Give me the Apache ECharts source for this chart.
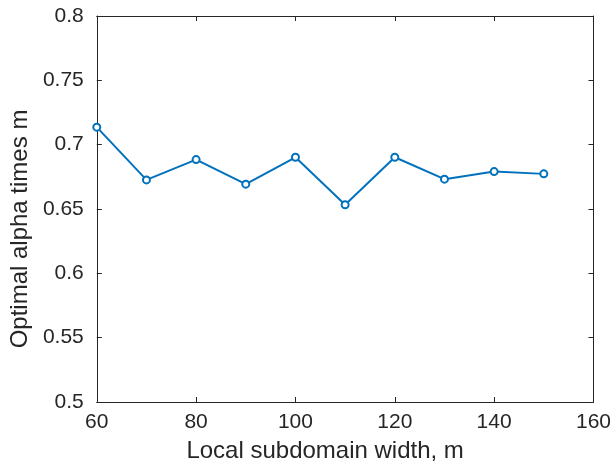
<!DOCTYPE html>
<html>
<head>
<meta charset="utf-8">
<script src="https://cdn.jsdelivr.net/npm/echarts@6/dist/echarts.min.js"></script>
<style>html,body{margin:0;padding:0;background:#fff}#c{width:614px;height:468px}</style>
</head>
<body>
<div id="c"></div>
<script>
const widths = [60, 70, 80, 90, 100, 110, 120, 130, 140, 150];
const alphaTimesM = [0.7136, 0.6726, 0.6884, 0.6693, 0.6902, 0.6533, 0.6902, 0.6732, 0.6791, 0.6773];
const xTicks = [60, 80, 100, 120, 140, 160];
const yTicks = [0.5, 0.55, 0.6, 0.65, 0.7, 0.75, 0.8];

const chart = echarts.init(document.getElementById('c'), null, {renderer: 'canvas'});
const font = '"Liberation Sans", Arial, Helvetica, sans-serif';
const axisColor = '#262626';
const baseAxis = {
  axisLine: {show: true, onZero: false, lineStyle: {color: axisColor, width: 1}},
  axisTick: {show: true, inside: true, length: 5, lineStyle: {color: axisColor, width: 1}},
  splitLine: {show: false}
};
chart.setOption({
  animation: false,
  grid: {left: 95, right: 18, top: 16, bottom: 64, containLabel: false},
  xAxis: [
    Object.assign({}, baseAxis, {
      type: 'value', min: xTicks[0], max: xTicks[xTicks.length - 1], interval: 20,
      position: 'bottom',
      name: 'Local subdomain width, m', nameLocation: 'middle', nameGap: 37,
      nameTextStyle: {fontFamily: font, fontSize: 24, color: axisColor, padding: [0, 40, 0, 0]},
      axisLabel: {fontFamily: font, fontSize: 21, color: axisColor, margin: 10}
    }),
    Object.assign({}, baseAxis, {
      type: 'value', min: xTicks[0], max: xTicks[xTicks.length - 1], interval: 20,
      position: 'top', axisLabel: {show: false}
    })
  ],
  yAxis: [
    Object.assign({}, baseAxis, {
      type: 'value', min: yTicks[0], max: yTicks[yTicks.length - 1], interval: 0.05,
      position: 'left',
      name: 'Optimal alpha times m', nameLocation: 'middle', nameGap: 64,
      nameTextStyle: {fontFamily: font, fontSize: 24, color: axisColor, padding: [0, 40, 0, 0]},
      axisLabel: {fontFamily: font, fontSize: 21, color: axisColor, margin: 13,
        formatter: v => String(parseFloat(v.toFixed(2)))}
    }),
    Object.assign({}, baseAxis, {
      type: 'value', min: yTicks[0], max: yTicks[yTicks.length - 1], interval: 0.05,
      position: 'right', axisLabel: {show: false}
    })
  ],
  series: [{
    type: 'line',
    data: widths.map((w, i) => [w, alphaTimesM[i]]),
    lineStyle: {color: '#0072BD', width: 2},
    symbol: 'circle',
    symbolSize: 7,
    itemStyle: {color: '#ffffff', borderColor: '#0072BD', borderWidth: 2},
    emphasis: {disabled: true}
  }]
});
</script>
</body>
</html>
